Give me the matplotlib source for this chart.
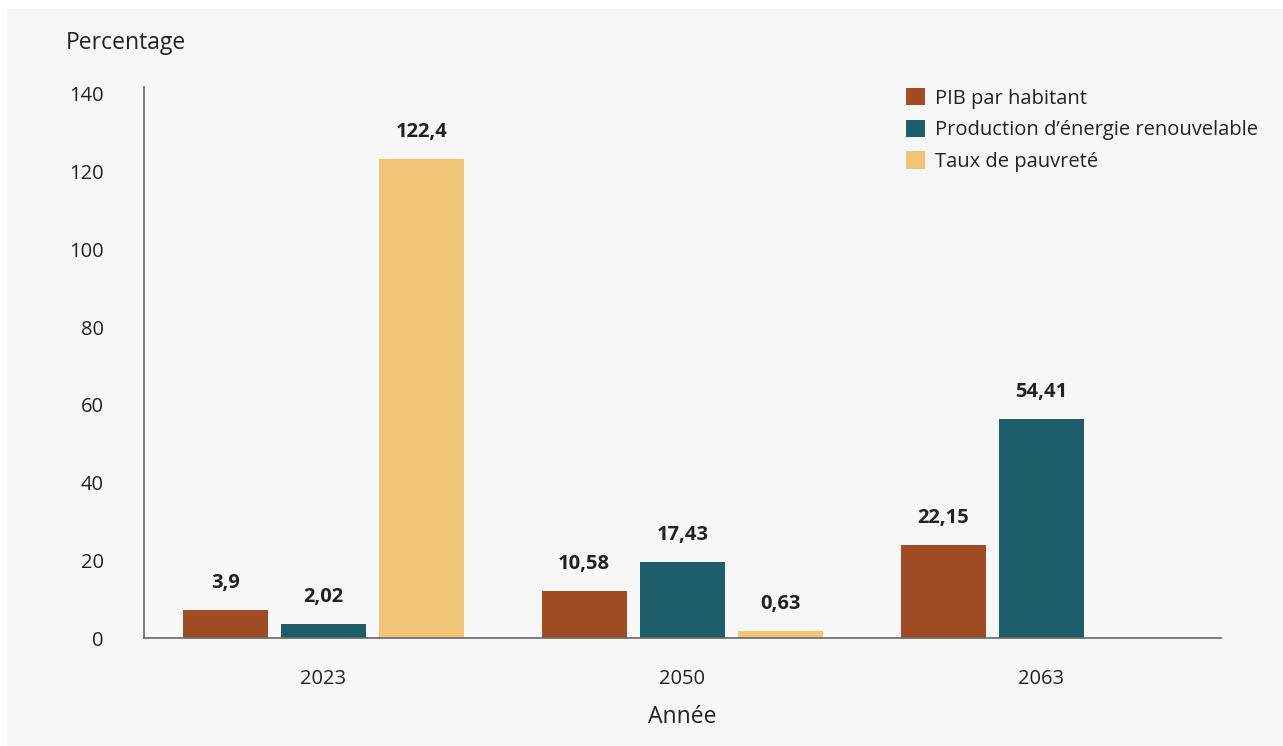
import matplotlib.pyplot as plt
from matplotlib.patches import Rectangle
import numpy as np

plt.rcParams['font.family'] = ['Open Sans', 'DejaVu Sans']

# data
years = ['2023', '2050', '2063']
series = ['PIB par habitant', 'Production d\u2019énergie renouvelable', 'Taux de pauvreté']
# bar heights as drawn in the picture
pib = [7.2, 12.2, 24.0]
energie = [3.6, 19.5, 56.3]
pauvrete = [123.3, 1.8, None]
# printed labels
pib_lbl = ['3,9', '10,58', '22,15']
energie_lbl = ['2,02', '17,43', '54,41']
pauvrete_lbl = ['122,4', '0,63', None]

colors = ['#A04C24', '#1E5E6B', '#F0C578']
text_col = '#222222'
bg = '#F7F7F7'

fig = plt.figure(figsize=(12.83, 7.46), dpi=100)
fig.patch.set_facecolor('white')
fig.patches.append(Rectangle((7 / 1283, 0), 1 - 7 / 1283, (746 - 9) / 746,
                             transform=fig.transFigure, facecolor=bg,
                             edgecolor='none', zorder=-10))

ax = fig.add_axes([144 / 1283, 108 / 746, (1221 - 144) / 1283, (638 - 87) / 746])
ax.set_facecolor(bg)

x = np.arange(len(years))
step = 0.274
width = 0.237
for k, (vals, lbls) in enumerate([(pib, pib_lbl), (energie, energie_lbl), (pauvrete, pauvrete_lbl)]):
    for i in range(len(years)):
        if vals[i] is None:
            continue
        xi = x[i] + (k - 1) * step
        ax.bar(xi, vals[i], width=width, color=colors[k], zorder=2,
               label=series[k] if i == 0 else None)
        ax.annotate(lbls[i], (xi, vals[i]), xytext=(0, 19.5), textcoords='offset points',
                    ha='center', va='center', fontsize=14.5, fontweight='bold',
                    color=text_col)

ax.set_xlim(-0.5, 2.5)
ax.set_ylim(0, 141.8)
ax.set_yticks(np.arange(0, 141, 20))
ax.set_xticks(x)
ax.set_xticklabels(years)
ax.tick_params(axis='y', length=0, pad=29, labelsize=14.5, labelcolor=text_col)
ax.tick_params(axis='x', length=0, pad=22, labelsize=14.5, labelcolor=text_col)
for s in ['top', 'right']:
    ax.spines[s].set_visible(False)
for s in ['left', 'bottom']:
    ax.spines[s].set_color('#666666')
    ax.spines[s].set_linewidth(1.2)

ax.set_xlabel('Année', fontsize=16.5, color=text_col, labelpad=12)
fig.text(66 / 1283, 1 - 43 / 746, 'Percentage', fontsize=16.5, color=text_col,
         ha='left', va='center')

leg = ax.legend(loc='upper left', bbox_to_anchor=((898 - 144) / (1221 - 144), 1.013),
                frameon=False, fontsize=14.5, handlelength=0.95, handleheight=0.95,
                handletextpad=0.5, labelspacing=0.55, borderaxespad=0)
for t in leg.get_texts():
    t.set_color(text_col)

fig.savefig('out.png', dpi=100, facecolor=fig.get_facecolor())
